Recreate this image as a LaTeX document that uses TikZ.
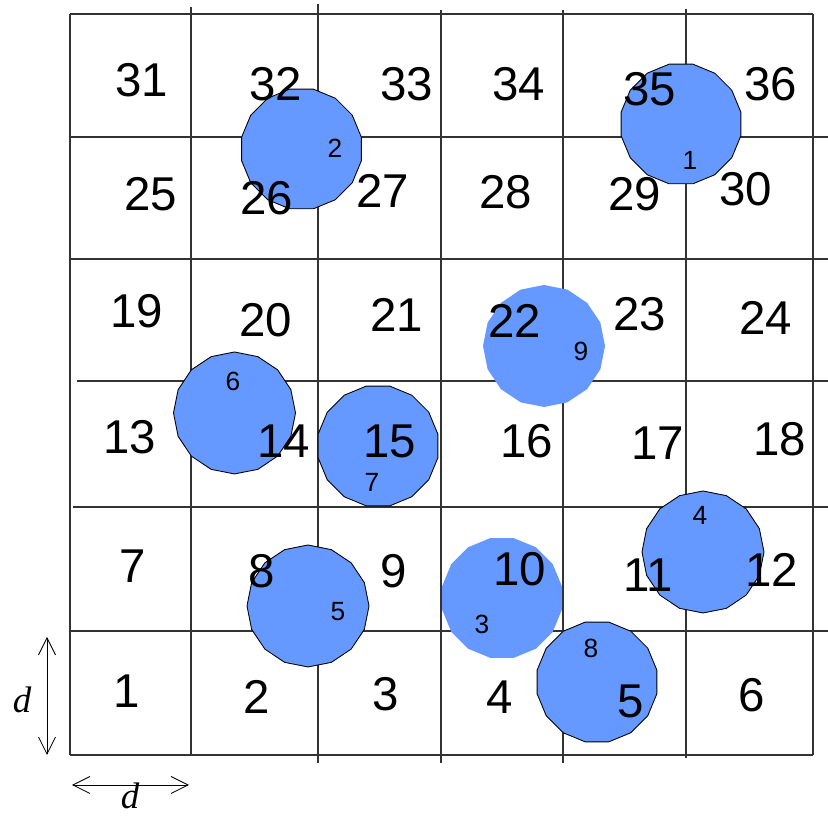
\documentclass[tikz,border=0pt]{standalone}
\usepackage{fontspec}
\setmainfont{Liberation Sans}
\newfontfamily\dimfont{Liberation Serif}
\usepackage{tikz}
\usetikzlibrary{shapes.geometric,arrows.meta,positioning}
\usepackage{xcolor}
\definecolor{discblue}{RGB}{102,153,255}

\begin{document}
\begin{tikzpicture}[
    gridline/.style={line width=0.6pt, black!80},
    cellnum/.style={font=\fontsize{27}{30}\selectfont, inner sep=0pt},
    discnum/.style={font=\fontsize{15}{17}\selectfont, inner sep=0pt},
    disc/.style={regular polygon, regular polygon sides=16, minimum size=2.44cm,
        inner sep=0pt, fill=discblue, draw=black, line width=0.5pt},
    bare/.style={draw=none},
    tilted/.style={shape border rotate=11.25},
    dimarrow/.style={line width=0.5pt, {Straight Barb[length=3.4mm,width=3.4mm]}-{Straight Barb[length=3.4mm,width=3.4mm]}},
    dimlabel/.style={font=\dimfont\itshape\fontsize{21}{24}\selectfont, inner sep=0pt}
]
    \useasboundingbox (0,0) rectangle (16.56,16.32);

    % grid
    \draw[gridline] (1.40,1.22) -- (1.40,16.04);
    \draw[gridline] (3.82,1.22) -- (3.82,16.18);
    \draw[gridline] (6.36,1.06) -- (6.36,16.24);
    \draw[gridline] (8.82,1.06) -- (8.82,16.12);
    \draw[gridline] (11.26,1.06) -- (11.26,16.12);
    \draw[gridline] (13.72,1.16) -- (13.72,16.14);
    \draw[gridline] (16.26,1.22) -- (16.26,16.04);
    \draw[gridline] (1.40,16.04) -- (16.26,16.04);
    \draw[gridline] (1.40,13.58) -- (16.56,13.58);
    \draw[gridline] (1.40,11.14) -- (16.56,11.14);
    \draw[gridline] (1.54,8.70) -- (16.56,8.70);
    \draw[gridline] (1.46,6.18) -- (16.56,6.18);
    \draw[gridline] (1.40,3.70) -- (16.56,3.70);
    \draw[gridline] (1.40,1.22) -- (16.26,1.22);

    % discs
    \node[disc] (d1) at (13.62,13.84) {};
    \node[disc] (d2) at (6.03,13.34) {};
    \node[disc, bare] (d3) at (10.04,4.36) {};
    \node[disc, tilted] (d4) at (14.06,5.28) {};
    \node[disc, tilted] (d5) at (6.16,4.20) {};
    \node[disc, tilted] (d6) at (4.69,8.06) {};
    \node[disc] (d7) at (7.56,7.40) {};
    \node[disc] (d8) at (11.94,2.68) {};
    \node[disc, bare, tilted] (d9) at (10.88,9.40) {};

    % disc numbers
    \foreach \n/\x/\y in {1/13.80/13.12, 2/6.70/13.36, 3/9.64/3.84, 4/14.00/6.02,
        5/6.76/4.08, 6/4.66/8.70, 7/7.44/6.68, 8/11.82/3.36, 9/11.62/9.30} {
        \node[discnum] (n\n) at (\x,\y) {\n};
    }

    % cell numbers
    \foreach \n/\x/\y in {31/2.84/14.72, 32/5.52/14.64, 33/8.14/14.64, 34/10.38/14.64,
        35/13.00/14.54, 36/15.42/14.64,
        25/3.02/12.44, 26/5.34/12.36, 27/7.66/12.50, 28/10.12/12.48, 29/12.70/12.44, 30/14.92/12.54,
        19/2.74/10.10, 20/5.32/9.92, 21/7.94/10.02, 22/10.30/9.90, 23/12.80/10.04, 24/15.32/9.96,
        13/2.60/7.58, 14/5.68/7.50, 15/7.80/7.50, 16/10.54/7.50, 17/13.16/7.46, 18/15.60/7.54,
        7/2.66/5.00, 8/5.24/4.90, 9/7.88/4.90, 10/10.40/4.94, 11/12.96/4.82, 12/15.44/4.92,
        1/2.54/2.50, 2/5.14/2.38, 3/7.72/2.44, 4/10.00/2.38, 5/12.62/2.30, 6/15.04/2.42} {
        \node[cellnum] (c\n) at (\x,\y) {\n};
    }

    % cell size
    \coordinate (vtop) at (0.94,3.58);
    \coordinate (vbot) at (0.94,1.22);
    \coordinate (hleft) at (1.44,0.62);
    \coordinate (hright) at (3.78,0.62);
    \draw[dimarrow] (vtop) -- (vbot);
    \draw[dimarrow] (hleft) -- (hright);
    \node[dimlabel] (dv) at (0.44,2.32) {d};
    \node[dimlabel] (dh) at (2.60,0.40) {d};
\end{tikzpicture}
\end{document}
